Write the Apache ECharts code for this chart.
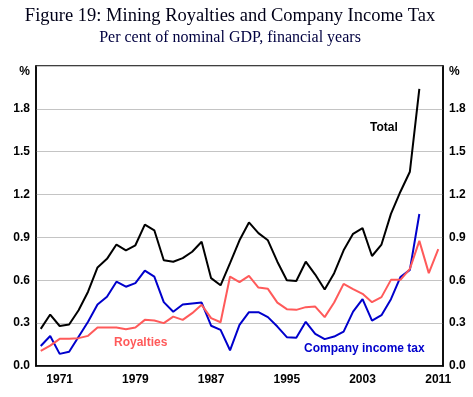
<!DOCTYPE html>
<html>
<head>
<meta charset="utf-8">
<script src="https://cdn.jsdelivr.net/npm/echarts@6/dist/echarts.min.js"></script>
<style>
  html, body { margin: 0; padding: 0; background: #fff; }
  #chart { width: 473px; height: 397px; }
</style>
</head>
<body>
<div id="chart"></div>
<script>
// financial years, labelled by ending year
var years = [];
for (var y = 1969; y <= 2011; y++) years.push(String(y));

// per cent of nominal GDP
var totalTax = [0.26, 0.36, 0.28, 0.29, 0.39, 0.52, 0.69, 0.75, 0.85, 0.81,
    0.845, 0.99, 0.95, 0.74, 0.73, 0.755, 0.80, 0.87, 0.615, 0.565,
    0.72, 0.88, 1.005, 0.93, 0.88, 0.73, 0.60, 0.595, 0.73, 0.64,
    0.535, 0.65, 0.81, 0.925, 0.965, 0.77, 0.85, 1.065, 1.22, 1.36, 1.94];
var companyTax = [0.14, 0.21, 0.085, 0.10, 0.205, 0.31, 0.43, 0.485, 0.59, 0.555,
    0.58, 0.668, 0.626, 0.447, 0.38, 0.43, 0.437, 0.444, 0.282, 0.253,
    0.11, 0.288, 0.377, 0.377, 0.342, 0.276, 0.202, 0.197, 0.309, 0.225,
    0.188, 0.206, 0.241, 0.381, 0.468, 0.318, 0.356, 0.468, 0.622, 0.673, 1.064];
var royalties = [0.106, 0.143, 0.19, 0.19, 0.195, 0.211, 0.27, 0.27, 0.27, 0.258,
    0.27, 0.323, 0.318, 0.30, 0.346, 0.323, 0.37, 0.428, 0.335, 0.306,
    0.626, 0.587, 0.631, 0.549, 0.54, 0.444, 0.398, 0.393, 0.412, 0.416,
    0.342, 0.444, 0.575, 0.538, 0.505, 0.447, 0.482, 0.603, 0.603, 0.68,
    0.876, 0.65, 0.818];

var sans = 'Liberation Sans, Arial';

function yLabel(v) {
    if (v > 2.05) return '{p|%}';
    return v.toFixed(1);
}

function yAxisCfg(pos, showGrid) {
    return {
        type: 'value',
        position: pos,
        min: 0,
        max: 2.1,
        interval: 0.3,
        axisLine: { show: true, lineStyle: { color: '#000', width: 1.5 } },
        axisTick: { show: false },
        splitLine: { show: showGrid, lineStyle: { color: '#c4c4c4', width: 1 } },
        axisLabel: {
            formatter: yLabel,
            margin: 6,
            color: '#000',
            fontFamily: sans,
            fontWeight: 'bold',
            fontSize: 12,
            rich: { p: { padding: [12, 0, 0, 0], fontWeight: 'bold', fontSize: 12, fontFamily: sans, color: '#000' } }
        }
    };
}

var myChart = echarts.init(document.getElementById('chart'));
var option = {
    animation: false,
    title: [{
        text: 'Figure 19: Mining Royalties and Company Income Tax',
        left: 225,
        textAlign: 'center',
        top: 2,
        textStyle: { fontFamily: 'Liberation Serif, Times New Roman', fontWeight: 'normal', fontSize: 18.5, color: '#000018' }
    }, {
        text: 'Per cent of nominal GDP, financial years',
        left: 225,
        textAlign: 'center',
        top: 25,
        textStyle: { fontFamily: 'Liberation Serif, Times New Roman', fontWeight: 'normal', fontSize: 16, color: '#000040' }
    }],
    grid: { left: 36, right: 30, top: 66, bottom: 31, show: true, borderColor: '#000', borderWidth: 1.5 },
    xAxis: {
        type: 'category',
        data: years,
        boundaryGap: true,
        axisLine: { lineStyle: { color: '#000', width: 1.5 } },
        axisTick: { inside: true, alignWithLabel: true, interval: 0, length: 5, lineStyle: { color: '#000' } },
        axisLabel: {
            interval: function (i, v) { return (parseInt(v) - 1971) % 8 === 0; },
            margin: 8,
            color: '#000',
            fontFamily: sans,
            fontWeight: 'bold',
            fontSize: 12
        }
    },
    yAxis: [yAxisCfg('left', true), yAxisCfg('right', false)],
    series: [
        { name: 'Total', type: 'line', data: totalTax, symbol: 'none', lineStyle: { color: '#000', width: 2 } },
        { name: 'Company income tax', type: 'line', data: companyTax, symbol: 'none', lineStyle: { color: '#0000cc', width: 2 } },
        { name: 'Royalties', type: 'line', data: royalties, symbol: 'none', lineStyle: { color: '#ff5a5a', width: 2 } }
    ],
    //series labels
    graphic: [
        { type: 'text', left: 370, top: 122, style: { text: 'Total', fill: '#000', font: 'bold 12px Liberation Sans, Arial' } },
        { type: 'text', left: 114, top: 337, style: { text: 'Royalties', fill: '#ff5a5a', font: 'bold 12px Liberation Sans, Arial' } },
        { type: 'text', left: 304, top: 343, style: { text: 'Company income tax', fill: '#0000cc', font: 'bold 12px Liberation Sans, Arial' } }
    ]
};
myChart.setOption(option);
</script>
</body>
</html>
